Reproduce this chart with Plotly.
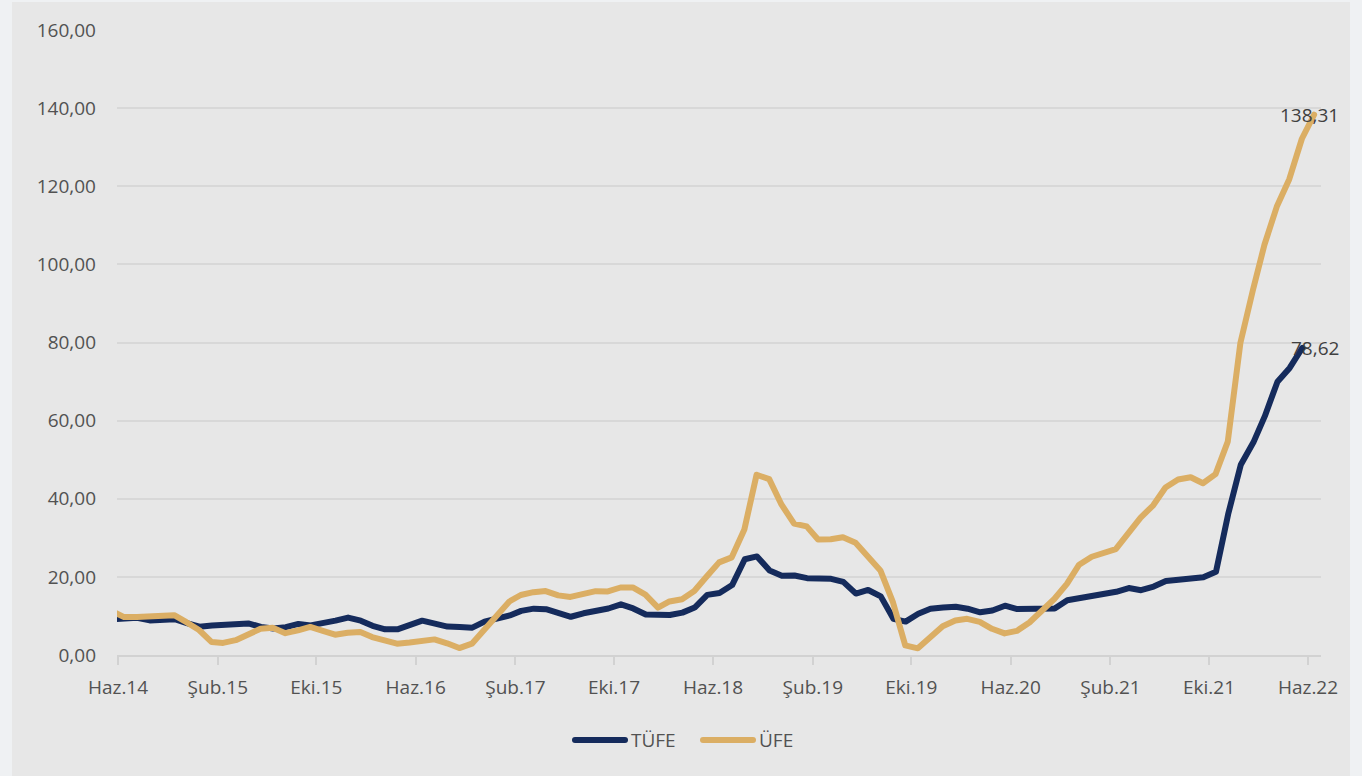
import pandas as pd
import plotly.graph_objects as go

# ---- data (annual % change) ----
# TÜFE: Haz.14 .. Haz.22 (monthly)
tufe_values = [
    9.16, 9.32, 9.54, 8.86, 8.96, 9.15, 8.17,
    7.24, 7.55, 7.61, 7.91, 8.09, 7.20, 6.81, 7.14, 7.95, 7.58, 8.10, 8.81,
    9.58, 8.78, 7.46, 6.57, 6.58, 7.64, 8.79, 8.05, 7.28, 7.16, 7.00, 8.53,
    9.22, 10.13, 11.29, 11.87, 11.72, 10.90, 9.79, 10.68, 11.20, 11.90, 12.98, 11.92,
    10.35, 10.26, 10.23, 10.85, 12.15, 15.39, 15.85, 17.90, 24.52, 25.24, 21.62, 20.30,
    20.35, 19.67, 19.71, 19.50, 18.71, 15.72, 16.65, 15.01, 9.26, 8.55, 10.56, 11.84,
    12.15, 12.37, 11.86, 10.94, 11.39, 12.62, 11.76, 11.77, 11.75, 11.89, 14.03, 14.60,
    14.97, 15.61, 16.19, 17.14, 16.59, 17.53, 18.95, 19.25, 19.58, 19.89, 21.31, 36.08,
    48.69, 54.44, 61.14, 69.97, 73.50, 78.62,
]
# ÜFE: May.14 .. Haz.22 (monthly, dated at month end)
ufe_values = [
    11.28, 9.7, 9.7, 9.9, 10.0, 10.2, 8.4, 6.4,
    3.3, 3.1, 3.8, 5.3, 6.7, 7.0, 5.6, 6.3, 7.2, 6.2, 5.2, 5.7,
    5.9, 4.6, 3.8, 2.9, 3.2, 3.5, 4.0, 3.0, 1.78, 2.9, 6.41, 9.94,
    13.69, 15.36, 16.09, 16.37, 15.26, 14.87, 15.45, 16.34, 16.28, 17.28, 17.30, 15.47,
    12.14, 13.71, 14.28, 16.37, 20.16, 23.71, 25.00, 32.13, 46.15, 45.01, 38.54, 33.64,
    32.93, 29.59, 29.64, 30.12, 28.71, 25.04, 21.66, 13.45, 2.45, 1.70, 4.26, 7.36,
    8.84, 9.26, 8.50, 6.71, 5.53, 6.17, 8.33, 11.53, 14.33, 18.20, 23.11, 25.15,
    26.16, 27.09, 31.20, 35.17, 38.33, 42.89, 44.92, 45.52, 43.96, 46.31, 54.62, 79.89,
    93.53, 105.01, 114.97, 121.82, 132.16, 138.31,
]
tick_labels = ["Haz.14", "Şub.15", "Eki.15", "Haz.16", "Şub.17", "Eki.17", "Haz.18",
               "Şub.19", "Eki.19", "Haz.20", "Şub.21", "Eki.21", "Haz.22"]
series_names = ["TÜFE", "ÜFE"]

tufe_dates = pd.date_range("2014-06-01", periods=len(tufe_values), freq="MS")
ufe_dates = pd.date_range("2014-05-01", periods=len(ufe_values), freq="MS") + pd.offsets.MonthEnd(0)
tick_dates = pd.date_range("2014-06-01", periods=len(tick_labels), freq="8MS") + pd.Timedelta(days=14)

NAVY = "#152b5c"
GOLD = "#dbae64"
TXT = "#525252"
FONT = "Open Sans"

W, H = 1362, 776
L, R, T, B = 117, 41, 30, 121
PW, PH = W - L - R, H - T - B


def px(x):
    return (x - L) / PW


def py(y):
    return (H - B - y) / PH


fig = go.Figure()
fig.add_trace(go.Scatter(x=tufe_dates, y=tufe_values, mode="lines", name=series_names[0],
                         line=dict(color=NAVY, width=6), showlegend=False))
fig.add_trace(go.Scatter(x=ufe_dates, y=ufe_values, mode="lines", name=series_names[1],
                         line=dict(color=GOLD, width=6), showlegend=False))


def fmt(v):
    return f"{v:.2f}".replace(".", ",")


annotations = [
    dict(x=ufe_dates[-1], y=ufe_values[-1], xref="x", yref="y", text=fmt(ufe_values[-1]),
         showarrow=False, xanchor="center", yanchor="middle", xshift=-5,
         font=dict(family=FONT, size=19, color="#404040")),
    dict(x=tufe_dates[-1], y=tufe_values[-1], xref="x", yref="y", text=fmt(tufe_values[-1]),
         showarrow=False, xanchor="center", yanchor="middle", xshift=13,
         font=dict(family=FONT, size=19, color="#404040")),
]

# custom legend
shapes = [
    dict(type="rect", xref="paper", yref="paper", x0=px(12), x1=px(1350), y0=py(776), y1=py(2),
         fillcolor="#e7e7e7", line=dict(width=0), layer="below"),
    dict(type="line", xref="paper", yref="paper", x0=px(575), x1=px(625), y0=py(740), y1=py(740),
         line=dict(color=NAVY, width=6)),
    dict(type="line", xref="paper", yref="paper", x0=px(703), x1=px(753), y0=py(740), y1=py(740),
         line=dict(color=GOLD, width=6)),
]
annotations += [
    dict(x=px(629), y=py(740), xref="paper", yref="paper", text=series_names[0], showarrow=False,
         xanchor="left", yanchor="middle", font=dict(family=FONT, size=19, color=TXT)),
    dict(x=px(757), y=py(740), xref="paper", yref="paper", text=series_names[1], showarrow=False,
         xanchor="left", yanchor="middle", font=dict(family=FONT, size=19, color=TXT)),
]

fig.update_layout(
    width=W, height=H, autosize=False,
    margin=dict(l=L, r=R, t=T, b=B, pad=0),
    paper_bgcolor="#eff1f3",
    plot_bgcolor="#e7e7e7",
    separators=",.",
    font=dict(family=FONT, size=19, color=TXT),
    shapes=shapes,
    annotations=annotations,
    showlegend=False,
    xaxis=dict(
        type="date",
        range=["2014-06-12 13:00", "2022-07-16 22:00"],
        tickmode="array", tickvals=tick_dates, ticktext=tick_labels,
        ticks="outside", ticklen=8, tickwidth=1.5, tickcolor="#d2d2d2",
        showline=True, linecolor="#d2d2d2", linewidth=1.5,
        showgrid=False, zeroline=False,
        tickfont=dict(family=FONT, size=19, color=TXT),
        ticklabelstandoff=6,
    ),
    yaxis=dict(
        range=[0, 160], tick0=0, dtick=20, tickformat=".2f",
        showgrid=True, gridcolor="#d8d8d8", gridwidth=1.5,
        zeroline=False, showline=False, ticks="",
        tickfont=dict(family=FONT, size=19, color=TXT),
        ticklabelstandoff=20,
    ),
)

post = """
document.body.style.margin='0'; document.body.style.padding='0';
document.body.style.overflow='hidden';
function _rj(){document.querySelectorAll('path.js-line, .shapelayer path').forEach(function(p){
 p.style.strokeLinejoin='round'; p.style.strokeLinecap='round';});}
_rj(); setTimeout(_rj, 50); setTimeout(_rj, 300);
"""
fig.write_html("out.html", post_script=post, config={"displayModeBar": False})
